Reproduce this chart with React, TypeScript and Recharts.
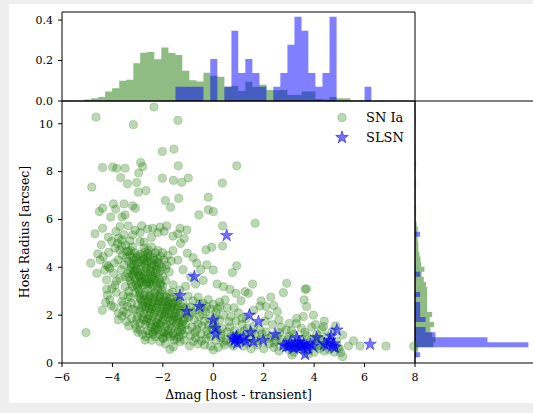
import {
  ScatterChart,
  Scatter,
  ComposedChart,
  Area,
  XAxis,
  YAxis,
  ReferenceArea,
  Legend,
} from "recharts"

const FONT = "'DejaVu Serif', serif"
const GREEN = "#1e7a05"
const BLUE = "#0000ff"

// scatter: SN Ia (delta mag, host radius)
const SN_UPPER = [
  [-2.35, 10.7], [-4.65, 10.28], [-3.17, 9.96], [-1.4, 10.14], [-2.02, 8.84], [-1.56, 8.94],
  [-2.88, 8.38], [-2.8, 8.21], [-4.39, 8.17], [-3.99, 8.19], [-3.83, 8.14], [-3.5, 8.14],
  [-2.96, 7.94], [-3.67, 7.75], [-4.82, 7.35], [-3.4, 7.49], [-3.04, 7.54], [-2.67, 7.21],
  [-2.97, 7.14], [-2.02, 7.72], [-1.58, 7.63], [-1.39, 8.24], [-1.25, 7.55], [-1.9, 6.79],
  [-1.69, 6.51], [-1.37, 6.88], [-4.52, 6.33], [-4.39, 6.47], [-3.96, 6.65], [-3.87, 6.43],
  [-4.07, 6.1], [-3.54, 6.65], [-3.2, 6.57], [-3.09, 6.47], [-3.62, 6.1], [-3.5, 6.19],
  [0.93, 8.24], [-0.99, 7.73], [0.36, 7.52], [-0.2, 6.93], [-0.2, 6.4], [0, 6.33],
  [-0.57, 6.19], [0.37, 5.73], [1.66, 5.84], [-1.05, 5.56],
]
const SN_BAND = [
  [-4.69, 5.4], [-4.39, 5.63], [-4.16, 5.26], [-3.86, 5.49], [-3.54, 5.36], [-3.37, 5.73],
  [-3.2, 5.35], [-2.84, 5.73], [-2.4, 5.63], [-2.11, 5.68], [-1.85, 5.73], [-1.32, 5.63],
  [-2.6, 5.6], [-2.2, 5.45], [-1.95, 5.5], [-2.9, 5.45], [-3.1, 5.55], [-1.6, 5.3],
  [-1.4, 5.4], [-2.45, 5.25], [-3.7, 5.7], [-3.3, 5.1], [-2.75, 5.05], [-1.15, 5.2],
  [-4.03, 5.08], [-3.63, 5.14], [-3.8, 5.0], [-3.63, 4.87], [-3.28, 4.7], [-2.91, 5.08],
]
const SN_LEFT = [
  [-4.86, 4.17], [-4.23, 4.1], [-4.1, 3.96], [-4.23, 3.08], [-4.2, 2.84], [-3.63, 2.57],
  [-3.77, 2.08], [-3.44, 2.08], [-3.06, 1.45], [-5.05, 1.27], [-2.67, 1.1], [-1.72, 0.57],
  [-1.98, 1.03], [-3.9, 4.8], [-3.44, 4.66], [-3.77, 4.31], [-4.16, 4.03], [-3.96, 3.75],
  [-3.7, 3.54], [-4.23, 3.47], [-3.9, 3.26], [-3.5, 3.19], [-4.1, 2.64], [-3.37, 2.78],
  [-3.57, 2.43], [-3.77, 1.8], [-3.44, 1.73], [-3.57, 2.15], [-3.24, 1.87], [-3.04, 1.8],
  [-2.91, 1.38], [-2.54, 1.24], [-2.71, 0.96], [-2.31, 1.38], [-2.11, 0.89], [-1.58, 0.68],
  [-1.32, 0.89], [-4.49, 4.31], [-4.62, 3.75], [-4.36, 4.45], [-4.4, 2.2], [-4.05, 2.4],
  [-3.85, 2.95], [-3.65, 3.9], [-3.6, 4.5], [-3.25, 2.5], [-3.2, 2.25], [-3.35, 1.55],
  [-2.8, 1.2], [-2.45, 0.95], [-1.9, 0.8], [-1.55, 0.95],
  [-4.15, 4.62], [-3.92, 4.18], [-3.71, 4.72], [-4.31, 3.88], [-3.84, 3.42], [-4.02, 3.11],
  [-3.58, 2.82], [-3.93, 2.33], [-3.62, 1.96], [-3.41, 2.37], [-4.27, 2.53], [-3.48, 4.93],
  [-3.76, 5.21], [-4.44, 4.94], [-4.58, 4.56],
]
const SN_CORE_A = [
  [-3.3, 4.5], [-3.1, 4.6], [-2.9, 4.55], [-2.7, 4.65], [-2.5, 4.5], [-2.3, 4.6], [-2.1, 4.45],
  [-3.35, 4.25], [-3.15, 4.3], [-2.95, 4.2], [-2.75, 4.35], [-2.55, 4.25], [-2.35, 4.3],
  [-2.15, 4.15], [-1.95, 4.3], [-3.25, 4.0], [-3.05, 3.95], [-2.85, 4.05], [-2.65, 3.95],
  [-2.45, 4.0], [-2.25, 3.9], [-2.05, 4.0], [-3.4, 3.75], [-3.2, 3.7], [-3.0, 3.8], [-2.8, 3.7],
  [-2.6, 3.75], [-2.4, 3.65], [-2.2, 3.7], [-2.0, 3.6], [-3.3, 3.45], [-3.1, 3.5], [-2.9, 3.4],
  [-2.7, 3.5], [-2.5, 3.4], [-2.3, 3.45], [-2.1, 3.35], [-1.9, 3.45], [-3.2, 3.2], [-3.0, 3.15],
  [-2.8, 3.25], [-2.6, 3.1], [-2.4, 3.2], [-2.2, 3.1], [-2.0, 3.2], [-3.1, 2.95], [-2.9, 2.9],
  [-2.7, 2.95], [-2.5, 2.85], [-2.3, 2.95], [-2.1, 2.9], [-3.05, 4.4], [-2.6, 4.45],
  [-2.85, 3.55], [-2.45, 3.6], [-2.95, 3.05], [-2.55, 3.3], [-3.15, 3.85], [-2.7, 4.1],
  [-2.35, 4.1], [-3.35, 3.0], [-2.2, 4.7], [-2.75, 4.8], [-3.2, 4.85], [-2.45, 4.85],
  [-1.85, 4.1], [-1.75, 3.8], [-1.8, 4.5], [-3.5, 3.6], [-3.55, 4.1], [-3.45, 4.4],
]
const SN_CORE_B = [
  [-2.9, 2.7], [-2.7, 2.65], [-2.5, 2.7], [-2.3, 2.6], [-2.1, 2.7], [-1.9, 2.6], [-1.7, 2.7],
  [-1.5, 2.6], [-3.0, 2.45], [-2.8, 2.4], [-2.6, 2.5], [-2.4, 2.35], [-2.2, 2.45], [-2.0, 2.4],
  [-1.8, 2.35], [-1.6, 2.45], [-1.4, 2.35], [-1.2, 2.5], [-3.1, 2.2], [-2.9, 2.15], [-2.7, 2.25],
  [-2.5, 2.1], [-2.3, 2.2], [-2.1, 2.15], [-1.9, 2.05], [-1.7, 2.2], [-1.5, 2.1], [-1.3, 2.2],
  [-1.1, 2.05], [-3.0, 1.95], [-2.8, 1.9], [-2.6, 1.85], [-2.4, 1.95], [-2.2, 1.85], [-2.0, 1.8],
  [-1.8, 1.9], [-1.6, 1.8], [-1.4, 1.85], [-1.2, 1.75], [-1.0, 1.9], [-2.9, 1.65], [-2.7, 1.6],
  [-2.5, 1.65], [-2.3, 1.55], [-2.1, 1.6], [-1.9, 1.5], [-1.7, 1.6], [-1.5, 1.55], [-1.3, 1.5],
  [-1.1, 1.6], [-2.6, 1.35], [-2.4, 1.3], [-2.2, 1.4], [-2.0, 1.3], [-1.8, 1.35], [-1.6, 1.25],
  [-1.4, 1.3], [-1.2, 1.2], [-2.3, 1.1], [-2.0, 1.05], [-1.7, 1.1], [-1.45, 1.0], [-1.15, 0.95],
  [-2.15, 2.55], [-1.85, 2.25], [-2.45, 1.75], [-1.65, 1.95], [-2.05, 2.05], [-1.35, 1.7],
  [-2.55, 2.3], [-1.75, 2.5], [-2.25, 1.7], [-1.95, 1.25], [-1.55, 2.3],
]
const SN_CORE_C = [
  [-3.2, 4.42], [-3.0, 4.48], [-2.8, 4.45], [-2.6, 4.58], [-2.4, 4.4], [-2.2, 4.35], [-3.25, 4.12],
  [-3.05, 4.18], [-2.85, 4.28], [-2.65, 4.2], [-2.45, 4.15], [-2.25, 4.05], [-3.3, 3.88],
  [-3.1, 3.82], [-2.9, 3.9], [-2.7, 3.82], [-2.5, 3.88], [-2.3, 3.78], [-2.1, 3.85], [-3.35, 3.58],
  [-3.15, 3.62], [-2.95, 3.65], [-2.75, 3.6], [-2.55, 3.52], [-2.35, 3.55], [-2.15, 3.5],
  [-3.25, 3.32], [-3.05, 3.28], [-2.85, 3.38], [-2.65, 3.3], [-2.45, 3.28], [-2.25, 3.32],
  [-2.05, 3.05], [-2.95, 2.8], [-2.75, 2.82], [-2.55, 2.78], [-2.35, 2.75], [-2.15, 2.8],
  [-1.95, 2.82], [-1.75, 2.9], [-2.8, 2.55], [-2.6, 2.6], [-2.4, 2.52], [-2.2, 2.58], [-2.0, 2.55],
  [-1.8, 2.58], [-1.6, 2.52], [-1.4, 2.6], [-2.85, 2.3], [-2.65, 2.35], [-2.45, 2.25], [-2.25, 2.3],
  [-2.05, 2.28], [-1.85, 2.38], [-1.65, 2.32], [-1.45, 2.25], [-1.25, 2.35], [-2.75, 2.05],
  [-2.55, 1.98], [-2.35, 2.08], [-2.15, 1.95], [-1.95, 1.95], [-1.75, 2.05], [-1.55, 1.95],
  [-1.35, 2.0], [-1.15, 1.85], [-2.65, 1.75], [-2.45, 1.5], [-2.25, 1.48], [-2.05, 1.7],
  [-1.85, 1.62], [-1.65, 1.45], [-1.45, 1.65], [-1.25, 1.38], [-2.15, 1.2], [-1.85, 1.15],
  [-1.55, 1.15], [-1.35, 1.1],
]
const SN_CORE_D = [
  [-3.17, 4.13], [-2.93, 3.61], [-2.71, 4.27], [-2.47, 3.83], [-2.21, 4.21], [-2.63, 3.37],
  [-2.87, 2.63], [-2.33, 2.91], [-2.09, 3.27], [-1.87, 2.74], [-1.63, 2.96], [-1.42, 2.71],
  [-2.77, 1.81], [-2.53, 2.41], [-2.17, 1.63], [-1.93, 2.17], [-1.71, 1.77], [-1.47, 1.93],
  [-1.23, 1.62], [-1.08, 2.31], [-2.39, 1.19], [-1.78, 1.23], [-1.31, 1.29], [-1.02, 1.37],
  [-2.97, 3.27], [-3.28, 2.73], [-3.11, 1.62], [-2.99, 1.28], [-1.59, 3.27], [-1.33, 3.05],
  [-1.89, 3.93], [-2.57, 4.71], [-3.37, 4.67], [-1.67, 4.27], [-2.01, 4.61],
]
const SN_MID = [
  [-1.0, 2.8], [-0.8, 2.6], [-0.6, 2.75], [-0.4, 2.5], [-0.2, 2.65], [0.0, 2.45], [-0.9, 2.35],
  [-0.7, 2.2], [-0.5, 2.3], [-0.3, 2.15], [-0.1, 2.25], [0.1, 2.1], [-0.95, 1.95], [-0.75, 1.8],
  [-0.55, 1.95], [-0.35, 1.75], [-0.15, 1.85], [0.05, 1.65], [0.25, 1.8], [-0.85, 1.5],
  [-0.65, 1.4], [-0.45, 1.55], [-0.25, 1.35], [-0.05, 1.45], [0.15, 1.3], [0.35, 1.45],
  [0.55, 1.3], [-0.9, 1.15], [-0.7, 1.05], [-0.5, 1.2], [-0.3, 1.0], [-0.1, 1.1], [0.1, 0.95],
  [0.3, 1.05], [0.5, 0.95], [0.7, 1.1], [-0.6, 0.8], [-0.35, 0.75], [-0.1, 0.7], [0.2, 0.65],
  [0.45, 0.75], [0.8, 0.7], [1.0, 0.85], [0.65, 1.5], [0.85, 1.35], [1.05, 1.25], [1.25, 1.1],
  [1.45, 1.0], [1.65, 1.2], [1.9, 1.0], [0.9, 1.75], [1.15, 1.6], [1.35, 1.45], [1.6, 1.55],
  [1.85, 1.4], [0.4, 2.0], [0.7, 1.95], [1.0, 2.1], [1.3, 1.85], [0.55, 2.3], [0.25, 2.55],
  [1.2, 0.7], [1.5, 0.6], [1.75, 0.75], [2.0, 0.6], [0.0, 0.55], [-0.8, 0.9],
  [-0.83, 2.13], [-0.61, 1.62], [-0.42, 2.04], [-0.18, 1.58], [0.07, 1.89], [0.31, 1.22],
  [0.62, 1.73], [0.93, 1.13], [1.14, 1.87], [1.37, 0.83], [-0.72, 1.27], [-0.47, 0.93],
  [-0.21, 1.21], [0.13, 1.47], [0.41, 0.87], [0.71, 0.83], [1.22, 1.34], [1.52, 1.28],
  [-0.94, 0.71], [-0.55, 2.47], [-0.27, 2.37], [0.17, 2.27], [0.83, 2.31], [1.71, 0.93],
  [1.93, 1.22], [2.18, 1.02], [2.42, 0.83], [2.63, 1.27],
]
const SN_TAIL = [
  [2.1, 1.3], [2.3, 1.1], [2.5, 0.9], [2.7, 1.0], [2.2, 0.8], [2.4, 0.65], [2.6, 0.5], [2.8, 0.7],
  [3.0, 0.55], [3.2, 0.45], [3.4, 0.6], [3.6, 0.5], [3.8, 0.55], [4.0, 0.45], [4.2, 0.6],
  [4.4, 0.5], [4.6, 0.55], [4.8, 0.45], [3.0, 1.1], [3.2, 1.2], [3.5, 1.0], [3.7, 1.15],
  [3.9, 1.0], [4.1, 1.2], [4.3, 0.95], [4.5, 1.1], [4.7, 1.3], [4.3, 1.4], [3.9, 1.5],
  [3.5, 1.45], [3.1, 1.35], [2.7, 1.5], [2.35, 1.6], [2.9, 0.85], [3.3, 0.8], [3.7, 0.8],
  [4.1, 0.75], [4.5, 0.8], [4.9, 0.9], [5.13, 1.17], [5.56, 0.93], [5.82, 0.71], [6.85, 0.71],
  [5.13, 0.26], [5.05, 0.43], [5.36, 0.71], [7.95, 0.7], [5.0, 0.6], [4.85, 1.55], [4.05, 1.6],
  [4.4, 1.75], [2.05, 1.75], [2.6, 1.8], [3.3, 1.65],
  [2.97, 0.98], [3.22, 0.63], [3.48, 0.77], [3.77, 0.37], [4.02, 0.92], [4.26, 0.71],
  [4.63, 0.93], [4.93, 0.63], [3.12, 0.33], [2.53, 1.12], [3.63, 1.28], [4.17, 1.04],
]
const SN_SPARSE = [
  [0.93, 4.06], [0.76, 3.78], [0.0, 3.89], [-0.26, 4.1], [-0.66, 4.17], [0.4, 3.19], [0.66, 3.08],
  [1.56, 3.3], [1.26, 2.98], [1.39, 2.91], [0.9, 2.91], [2.91, 3.33], [2.78, 2.94], [2.28, 2.75],
  [1.85, 2.38], [2.09, 2.36], [2.54, 2.15], [3.31, 1.87], [3.64, 3.08], [3.6, 2.64], [0.27, 2.36],
  [0.47, 2.64], [3.02, 1.66], [2.89, 1.38], [3.7, 3.1], [3.7, 2.36], [3.57, 1.94], [3.97, 2.0],
  [4.37, 1.52], [0.37, 4.89], [-0.06, 4.84], [-0.29, 4.73], [-1.03, 4.59], [-0.5, 3.9],
  [-0.9, 3.6], [-1.2, 3.9], [-0.7, 3.3], [-1.1, 3.2], [-0.4, 3.45], [0.15, 3.3], [-1.4, 4.3],
  [-1.6, 4.7], [-1.3, 5.0], [-0.8, 4.4], [1.1, 2.6], [1.6, 2.2], [2.2, 2.0], [1.9, 2.6], [2.4, 2.4],
]

// scatter: SLSN
const SLSN_PTS = [
  [-1.32, 2.82], [-1.05, 2.15], [-0.75, 3.61], [-0.55, 2.36], [0.0, 1.8], [0.07, 1.45],
  [0.1, 1.2], [0.53, 5.33], [0.78, 1.05], [0.85, 0.95], [0.92, 1.1], [0.95, 0.82], [0.88, 1.0],
  [1.06, 0.96], [1.2, 1.05], [1.43, 2.0], [1.48, 1.28], [1.3, 0.9], [1.59, 0.89], [1.79, 1.73],
  [1.98, 0.95], [2.45, 1.2], [2.78, 0.75], [2.9, 0.68], [3.0, 0.7], [3.05, 0.85], [3.12, 0.72],
  [3.18, 0.62], [3.25, 0.78], [3.31, 1.06], [3.35, 0.7], [3.4, 0.88], [3.44, 0.66], [3.47, 0.75],
  [3.52, 0.7], [3.58, 0.8], [3.64, 0.36], [3.7, 0.72], [3.75, 0.62], [3.85, 0.78], [3.95, 0.7],
  [4.1, 1.06], [4.4, 0.8], [4.5, 0.72], [4.62, 0.95], [4.67, 1.12], [4.72, 0.7], [4.78, 0.8],
  [4.82, 0.65], [4.9, 1.38], [6.22, 0.78],
]

// top histogram (density in delta mag)
const X_EDGES = [
  -5.12, -4.84, -4.56, -4.29, -4.01, -3.73, -3.45, -3.17, -2.9, -2.62, -2.34, -2.06, -1.78, -1.5,
  -1.23, -0.95, -0.67, -0.39, -0.12, 0.16, 0.44, 0.72, 0.99, 1.27, 1.55, 1.83, 2.11, 2.38, 2.66,
  2.94, 3.22, 3.5, 3.77, 4.05, 4.33, 4.61, 4.89, 5.16, 5.44, 5.72, 6.0, 6.27, 6.55, 6.83,
]
const SN_TOP = [
  0.007, 0.013, 0.02, 0.047, 0.063, 0.1, 0.105, 0.187, 0.238, 0.242, 0.207, 0.265, 0.237, 0.228,
  0.15, 0.102, 0.097, 0.14, 0.125, 0.12, 0.07, 0.075, 0.05, 0.095, 0.07, 0.08, 0.055, 0.053,
  0.055, 0.03, 0.03, 0.047, 0.047, 0.01, 0.007, 0.02, 0.013, 0.013, 0.003, 0.003, 0.003, 0,
  0.003,
]
const SLSN_TOP = [
  0, 0, 0, 0, 0, 0, 0, 0, 0, 0, 0, 0, 0, 0.07, 0.07, 0.07, 0.07, 0, 0.208, 0, 0.07, 0.347, 0.139,
  0.208, 0.139, 0.07, 0, 0.07, 0.139, 0.278, 0.417, 0.347, 0.139, 0.07, 0.139, 0.417, 0, 0, 0, 0,
  0.07, 0, 0,
]

// right histogram (density in host radius)
const Y_EDGES = [
  0.24, 0.45, 0.66, 0.87, 1.08, 1.29, 1.5, 1.71, 1.92, 2.13, 2.34, 2.55, 2.76, 2.97, 3.18, 3.39,
  3.6, 3.81, 4.02, 4.23, 4.44, 4.65, 4.86, 5.07, 5.28, 5.49, 5.7, 5.91, 6.12, 6.33, 6.54, 6.75,
  6.96, 7.17, 7.38, 7.59, 7.8, 8.01, 8.22, 8.43, 8.64, 8.85, 9.06, 9.27, 9.48, 9.69, 9.9, 10.11,
  10.32, 10.53, 10.74,
]
const SN_SIDE = [
  0.025, 0.05, 0.33, 0.37, 0.31, 0.28, 0.345, 0.265, 0.31, 0.22, 0.22, 0.22, 0.22, 0.22, 0.2,
  0.16, 0.12, 0.17, 0.11, 0.1, 0.08, 0.06, 0.06, 0.05, 0.04, 0.05, 0.03, 0.01, 0.02, 0.02, 0.01,
  0.01, 0.01, 0.01, 0.02, 0.01, 0.005, 0.01, 0.02, 0.005, 0.005, 0.005, 0, 0, 0, 0, 0.005, 0.01,
  0.005, 0.005,
]
const SLSN_SIDE = [
  0.093, 0, 2.05, 1.31, 0.37, 0.19, 0, 0.19, 0.093, 0.093, 0.093, 0, 0.093, 0, 0, 0, 0.093, 0, 0,
  0, 0, 0, 0, 0, 0.093, 0, 0, 0, 0, 0, 0, 0, 0, 0, 0, 0, 0, 0, 0, 0, 0, 0, 0, 0, 0, 0, 0, 0, 0, 0,
]

const X_TICKS = [-6, -4, -2, 0, 2, 4, 6, 8]
const Y_TICKS = [0, 2, 4, 6, 8, 10]
const TOP_TICKS = [0, 0.2, 0.4]

const snia = [
  ...SN_UPPER, ...SN_BAND, ...SN_LEFT, ...SN_CORE_A, ...SN_CORE_B, ...SN_CORE_C, ...SN_CORE_D,
  ...SN_MID, ...SN_TAIL, ...SN_SPARSE,
].map(([x, y]) => ({ x, y }))
const slsn = SLSN_PTS.map(([x, y]) => ({ x, y }))
const topHist = X_EDGES.map((edge, i) => ({ edge, sn: SN_TOP[i] ?? 0, sl: SLSN_TOP[i] ?? 0 }))
const sideHist = Y_EDGES.map((edge, i) => ({ edge, sn: SN_SIDE[i] ?? 0, sl: SLSN_SIDE[i] ?? 0 }))

const fmtTick = (v: number) => (v < 0 ? "\u2212" + Math.abs(v) : String(v))
const tickStyle = { fill: "#000", fontSize: 11, fontFamily: FONT }

function starPath(cx: number, cy: number, R: number) {
  const pts: string[] = []
  for (let i = 0; i < 10; i++) {
    const a = -Math.PI / 2 + (i * Math.PI) / 5
    const rad = i % 2 === 0 ? R : R * 0.382
    pts.push(`${cx + rad * Math.cos(a)},${cy + rad * Math.sin(a)}`)
  }
  return pts.join(" ")
}

const Dot = (p: any) => (
  <circle cx={p.cx} cy={p.cy} r={4.1} fill={GREEN} fillOpacity={0.3} stroke={GREEN} strokeOpacity={0.3} strokeWidth={0.8} />
)
const Star = (p: any) => (
  <polygon points={starPath(p.cx, p.cy, 6.6)} fill={BLUE} fillOpacity={0.55} stroke={BLUE} strokeOpacity={0.55} strokeWidth={0.8} />
)

function LegendBox() {
  const row = { display: "flex", alignItems: "center", height: 19.5 }
  return (
    <div style={{ fontFamily: FONT, fontSize: 13, color: "#000" }}>
      <div style={row}>
        <svg width={24} height={19}>
          <circle cx={12} cy={9.5} r={4.1} fill={GREEN} fillOpacity={0.3} stroke={GREEN} strokeOpacity={0.3} />
        </svg>
        <span style={{ marginLeft: 12 }}>SN Ia</span>
      </div>
      <div style={row}>
        <svg width={24} height={19}>
          <polygon points={starPath(12, 9.5, 6.6)} fill={BLUE} fillOpacity={0.55} stroke={BLUE} strokeOpacity={0.55} />
        </svg>
        <span style={{ marginLeft: 12 }}>SLSN</span>
      </div>
    </div>
  )
}

const layer = { position: "absolute" as const, left: 0, top: 0 }

export default function App() {
  return (
    <div style={{ position: "absolute", left: 0, top: 0, width: 533, height: 413, overflow: "hidden", background: "#eeeeee", fontFamily: FONT }}>
      <div style={{ position: "absolute", left: 9, top: 4, width: 524, height: 399, background: "#fff" }} />

      {/* top marginal histogram */}
      <div style={layer}>
        <ComposedChart width={533} height={413} data={topHist} margin={{ top: 12, right: 118, bottom: 312, left: 10 }}>
          <XAxis type="number" dataKey="edge" domain={[-6, 8]} hide />
          <YAxis
            type="number"
            domain={[0, 0.44]}
            ticks={TOP_TICKS}
            tickFormatter={(v: number) => v.toFixed(1)}
            width={52}
            axisLine={false}
            tickSize={4}
            tickMargin={5}
            stroke="#000"
            tick={tickStyle}
          />
          <Area type="stepAfter" dataKey="sn" stroke="none" fill={GREEN} fillOpacity={0.5} isAnimationActive={false} />
          <Area type="stepAfter" dataKey="sl" stroke="none" fill={BLUE} fillOpacity={0.5} isAnimationActive={false} />
          <ReferenceArea x1={-6} x2={8} y1={0} y2={0.44} fill="none" stroke="#000" strokeWidth={1} />
        </ComposedChart>
      </div>

      {/* right marginal histogram */}
      <div style={layer}>
        <ComposedChart layout="vertical" width={540} height={413} data={sideHist} margin={{ top: 101, right: 0, bottom: 50, left: 415 }}>
          <XAxis type="number" domain={[0, 2.26]} hide />
          <YAxis type="number" dataKey="edge" domain={[0, 10.95]} reversed hide />
          <Area type="stepBefore" dataKey="sn" stroke="none" fill={GREEN} fillOpacity={0.5} isAnimationActive={false} />
          <Area type="stepBefore" dataKey="sl" stroke="none" fill={BLUE} fillOpacity={0.5} isAnimationActive={false} />
          <ReferenceArea x1={0} x2={2.26} y1={0} y2={10.95} fill="none" stroke="#000" strokeWidth={1} />
        </ComposedChart>
      </div>

      {/* main scatter */}
      <div style={layer}>
        <ScatterChart width={533} height={413} margin={{ top: 101, right: 118, bottom: 0, left: 10 }}>
          <XAxis
            type="number"
            dataKey="x"
            domain={[-6, 8]}
            ticks={X_TICKS}
            tickFormatter={fmtTick}
            axisLine={false}
            tickSize={4}
            tickMargin={6}
            height={50}
            stroke="#000"
            tick={tickStyle}
            label={{ value: "\u0394mag [host - transient]", position: "insideBottom", offset: 14, fill: "#000", fontSize: 12.5, fontFamily: FONT }}
          />
          <YAxis
            type="number"
            dataKey="y"
            domain={[0, 10.95]}
            ticks={Y_TICKS}
            width={52}
            axisLine={false}
            tickSize={4}
            tickMargin={5}
            stroke="#000"
            tick={tickStyle}
            label={{ value: "Host Radius [arcsec]", angle: -90, position: "insideLeft", offset: 15, fill: "#000", fontSize: 12.5, fontFamily: FONT, style: { textAnchor: "middle" } }}
          />
          <Scatter data={snia} shape={Dot} isAnimationActive={false} />
          <Scatter data={slsn} shape={Star} isAnimationActive={false} />
          <ReferenceArea x1={-6} x2={8} y1={0} y2={10.95} fill="none" stroke="#000" strokeWidth={1} />
          <Legend
            layout="horizontal"
            verticalAlign="middle"
            align="center"
            content={LegendBox}
            wrapperStyle={{ left: 330, top: 108, width: 100, height: 40 }}
          />
        </ScatterChart>
      </div>
    </div>
  )
}
